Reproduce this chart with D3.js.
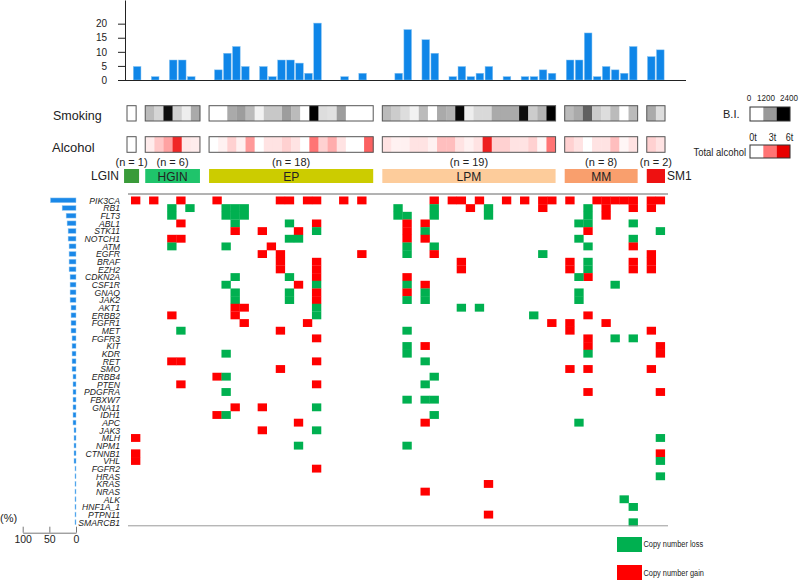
<!DOCTYPE html>
<html>
<head>
<meta charset="utf-8">
<script src="https://cdn.jsdelivr.net/npm/d3@7"></script>
<style>
body { margin: 0; background: #fff; }
svg text { font-family: "Liberation Sans", Arial, sans-serif; fill: #222; }
</style>
</head>
<body>
<div id="chart"></div>
<script>
// Groups of samples
var groups = ["LGIN", "HGIN", "EP", "LPM", "MM", "SM1"];
var groupN = [1, 6, 18, 19, 8, 2];
var groupColor = ["#3a9b3a", "#1fc46b", "#cccc00", "#fdcc9b", "#f99f6d", "#ee1111"];

// % of genes altered per sample (top bars)
var topPct = [4.8,
  1.2, 0, 7.1, 7.1, 1.2, 0,
  3.6, 9.5, 11.9, 4.8, 0, 4.8, 1.2, 7.1, 7.1, 6.0, 2.4, 20.2, 0, 0, 1.2, 0, 2.4, 0,
  0, 2.4, 17.9, 0, 14.3, 9.5, 0, 1.2, 4.8, 1.2, 2.4, 4.8, 0, 1.2, 0, 1.2, 1.2, 3.6, 2.4,
  7.1, 7.1, 16.7, 1.2, 4.8, 3.6, 2.4, 11.9,
  8.3, 10.7];

// Brinkman index per sample
var smokingBI = [0,
  800, 500, 2300, 550, 200, 1000,
  0, 0, 1000, 1150, 800, 150, 650, 650, 1150, 800, 0, 2400, 400, 350, 1150, 0, 0, 0,
  800, 600, 400, 150, 800, 0, 1000, 900, 2350, 200, 450, 450, 1000, 1000, 1000, 2300, 600, 900, 2400,
  800, 1000, 1650, 600, 400, 800, 0, 800,
  1000, 400];

// Total alcohol (t) per sample
var alcoholT = [0,
  0.4, 1.2, 2.0, 5.0, 0.5, 0.4,
  0, 0.3, 1.0, 0.3, 2.2, 0, 0.6, 0.6, 1.0, 0.6, 0, 3.0, 1.0, 1.8, 0.6, 0, 0, 3.5,
  0.6, 0.3, 0.3, 0.6, 0.6, 0.3, 1.4, 1.4, 0.6, 0.3, 0.6, 5.2, 1.0, 1.0, 0.6, 0.6, 1.0, 0.2, 3.0,
  1.0, 0.6, 0, 0.6, 0.6, 1.4, 0.2, 0.6,
  1.0, 0.6];

var genes = ["PIK3CA", "RB1", "FLT3", "ABL1", "STK11", "NOTCH1", "ATM", "EGFR", "BRAF", "EZH2",
  "CDKN2A", "CSF1R", "GNAQ", "JAK2", "AKT1", "ERBB2", "FGFR1", "MET", "FGFR3", "KIT",
  "KDR", "RET", "SMO", "ERBB4", "PTEN", "PDGFRA", "FBXW7", "GNA11", "IDH1", "APC",
  "JAK3", "MLH", "NPM1", "CTNNB1", "VHL", "FGFR2", "HRAS", "KRAS", "NRAS", "ALK",
  "HNF1A_1", "PTPN11", "SMARCB1"];

// % of samples altered per gene (left bars)
var genePct = [48, 26, 18.5, 16.7, 14.8, 14.8, 13, 13, 13, 13,
  11.1, 11.1, 11.1, 11.1, 9.3, 9.3, 9.3, 9.3, 7.4, 7.4,
  7.4, 7.4, 7.4, 5.6, 5.6, 5.6, 5.6, 5.6, 5.6, 5.6,
  3.7, 3.7, 3.7, 3.7, 3.7, 1.9, 1.9, 1.9, 1.9, 1.9,
  1.9, 1.9, 1.9];

// Copy number gain: sample indices per gene
var gains = [
  [0, 1, 4, 7, 14, 15, 17, 18, 21, 23, 30, 32, 33, 35, 38, 40, 42, 43, 44, 47, 48, 49, 50, 51, 52, 53],
  [34, 42, 48, 51, 52],
  [48],
  [4, 18, 27, 29],
  [9, 12, 16, 27, 46],
  [3, 4, 27, 29],
  [13, 51],
  [12, 14, 23, 30, 52],
  [14, 18, 33, 44, 51, 52],
  [14, 18, 33, 44, 51, 52],
  [18, 27, 46],
  [16, 29],
  [18, 27],
  [18],
  [9, 10],
  [3, 9, 46],
  [10, 17, 43, 44, 48],
  [14, 44, 52],
  [18, 46],
  [29, 46, 53],
  [53],
  [3, 4, 18],
  [14, 44, 46, 52],
  [7],
  [4, 18],
  [46, 53],
  [],
  [9, 12],
  [7],
  [16, 29],
  [12],
  [0],
  [],
  [0, 53],
  [0],
  [18],
  [],
  [36],
  [29],
  [],
  [],
  [36],
  []
];

// Copy number loss: sample indices per gene
var losses = [
  [],
  [3, 5, 8, 9, 10, 26, 30, 36, 46],
  [3, 8, 9, 10, 26, 27, 30, 36, 46],
  [9, 15, 45, 46, 51],
  [18, 29, 53],
  [15, 16, 45, 51],
  [3, 8, 27, 30, 46],
  [27, 42],
  [46],
  [46],
  [9, 15, 45],
  [8, 18, 27, 49],
  [9, 15, 29, 45],
  [9, 15, 27, 29, 45],
  [18, 33, 35],
  [18, 41],
  [],
  [4, 27],
  [49, 51],
  [27],
  [8, 27, 46],
  [29],
  [],
  [8, 30],
  [29],
  [8],
  [27, 29, 30],
  [18],
  [8, 30],
  [45],
  [18],
  [53],
  [16, 27],
  [],
  [53],
  [],
  [53],
  [],
  [],
  [50],
  [51],
  [],
  [51]
];

var lossColor = "#00b050";
var gainColor = "#ff0000";

// sample -> group and slot (one empty slot between groups)
var samples = [];
groups.forEach(function(g, gi) {
  for (var i = 0; i < groupN[gi]; i++) {
    var idx = samples.length;
    samples.push({ index: idx, group: gi, slot: idx + gi });
  }
});
var slotCount = samples.length + groups.length - 1;
var slots = d3.range(slotCount);

var width = 800, height = 581;
var svg = d3.select("#chart").append("svg")
  .attr("width", width)
  .attr("height", height);

// condensed text helper
function ctext(x, y, str, size, sx, anchor, style) {
  return svg.append("text")
    .attr("transform", "translate(" + x + "," + y + ") scale(" + sx + ",1)")
    .attr("text-anchor", anchor || "start")
    .attr("font-size", size)
    .attr("font-style", style || "normal")
    .text(str);
}

// Scales
var xTop = d3.scaleBand().domain(slots)
  .range([133.3, 133.3 + 9.02 * (slotCount - 0.15)]).paddingInner(0.15);
var xBox = d3.scaleBand().domain(slots).range([127, 665]);
var xHeat = d3.scaleBand().domain(slots).range([131, 131 + 9.047 * slotCount]);
var yTop = d3.scaleLinear().domain([0, 28.4]).range([80, 0]);
var yRow = d3.scaleBand().domain(genes).range([196.5, 526]);
var xLeft = d3.scaleLinear().domain([0, 100]).range([76, 22.7]);
var smokeColor = d3.scaleLinear().domain([0, 1200, 2400]).range(["#ffffff", "#999999", "#000000"]);
var alcColor = d3.scaleLinear().domain([0, 3, 6]).range(["#ffffff", "#ff7474", "#e80000"]);

// ---- top bar chart ----
svg.append("g").selectAll("rect")
  .data(samples)
  .enter()
  .append("rect")
  .attr("x", function(d) { return xTop(d.slot); })
  .attr("y", function(d) { return yTop(topPct[d.index]); })
  .attr("width", xTop.bandwidth())
  .attr("height", function(d) { return 80 - yTop(topPct[d.index]); })
  .attr("fill", "#0f86e8")
  .attr("stroke", "#8cc6f2")
  .attr("stroke-width", 0.5);

var topAxis = svg.append("g")
  .attr("transform", "translate(125,0)")
  .call(d3.axisLeft(yTop).tickValues([0, 5, 10, 15, 20]).tickSize(7).tickSizeOuter(0).tickPadding(11));
topAxis.selectAll("text").attr("font-size", 10).attr("font-family", "Liberation Sans, Arial");
topAxis.selectAll("path, line").attr("stroke", "#222");

svg.append("line")
  .attr("x1", 125).attr("x2", 686)
  .attr("y1", 80.5).attr("y2", 80.5)
  .attr("stroke", "#222");

// ---- smoking / alcohol rows ----
function clinicalRow(y, h, values, color) {
  svg.append("g").selectAll("rect")
    .data(samples)
    .enter()
    .append("rect")
    .attr("x", function(d) { return xBox(d.slot); })
    .attr("y", y)
    .attr("width", xBox.bandwidth() + 0.3)
    .attr("height", h)
    .attr("fill", function(d) { return color(values[d.index]); });
  groups.forEach(function(g, gi) {
    var grp = samples.filter(function(d) { return d.group === gi; });
    var x0 = xBox(grp[0].slot), x1 = xBox(grp[grp.length - 1].slot) + xBox.bandwidth();
    svg.append("rect")
      .attr("x", x0).attr("y", y)
      .attr("width", x1 - x0).attr("height", h)
      .attr("fill", "none")
      .attr("stroke", "#555")
      .attr("stroke-width", 1);
  });
}
clinicalRow(105.7, 15.3, smokingBI, smokeColor);
clinicalRow(136.7, 15.6, alcoholT, alcColor);

svg.append("text").attr("x", 53).attr("y", 119.5).attr("font-size", 12.5).text("Smoking");
svg.append("text").attr("x", 52).attr("y", 151.5).attr("font-size", 13).text("Alcohol");

// ---- group boxes ----
groups.forEach(function(g, gi) {
  var grp = samples.filter(function(d) { return d.group === gi; });
  var x0 = xBox(grp[0].slot), x1 = xBox(grp[grp.length - 1].slot) + xBox.bandwidth();
  if (x1 - x0 < 15) {
    var c = (x0 + x1) / 2;
    x0 = c - 7.5; x1 = c + 7.5;
  }
  var cx = (x0 + x1) / 2;
  svg.append("rect")
    .attr("x", x0).attr("y", 169)
    .attr("width", x1 - x0).attr("height", 14)
    .attr("fill", groupColor[gi]);
  svg.append("text")
    .attr("x", cx).attr("y", 166)
    .attr("text-anchor", "middle")
    .attr("font-size", 11)
    .text("(n = " + groupN[gi] + ")");
  if (g === "LGIN") {
    svg.append("text").attr("x", 119).attr("y", 180.3).attr("text-anchor", "end").attr("font-size", 12).text(g);
  } else if (g === "SM1") {
    svg.append("text").attr("x", 667).attr("y", 180.3).attr("font-size", 12).text(g);
  } else {
    svg.append("text").attr("x", cx).attr("y", 180.5).attr("text-anchor", "middle").attr("font-size", 12).text(g);
  }
});

// ---- heatmap ----
var cells = [];
genes.forEach(function(g, i) {
  gains[i].forEach(function(s) { cells.push({ gene: g, sample: samples[s], type: "gain" }); });
  losses[i].forEach(function(s) { cells.push({ gene: g, sample: samples[s], type: "loss" }); });
});

svg.append("g").selectAll("rect")
  .data(cells)
  .enter()
  .append("rect")
  .attr("x", function(d) { return xHeat(d.sample.slot); })
  .attr("y", function(d) { return yRow(d.gene); })
  .attr("width", xHeat.bandwidth() + 0.3)
  .attr("height", yRow.bandwidth() + 0.2)
  .attr("fill", function(d) { return d.type === "gain" ? gainColor : lossColor; });

svg.append("line")
  .attr("x1", 128).attr("x2", 668).attr("y1", 194).attr("y2", 194)
  .attr("stroke", "#666");
svg.append("line")
  .attr("x1", 128).attr("x2", 668).attr("y1", 525.8).attr("y2", 525.8)
  .attr("stroke", "#999");

// gene labels
genes.forEach(function(g) {
  ctext(120, yRow(g) + yRow.bandwidth() / 2 + 3.4, g, 9.6, 0.9, "end", "italic");
});

// ---- left bar chart ----
svg.append("g").selectAll("rect")
  .data(genes)
  .enter()
  .append("rect")
  .attr("x", function(d, i) { return xLeft(genePct[i]); })
  .attr("y", function(d) { return yRow(d) + yRow.bandwidth() / 2 - 2.4; })
  .attr("width", function(d, i) { return 76 - xLeft(genePct[i]); })
  .attr("height", 4.8)
  .attr("fill", "#1a88e8")
  .attr("stroke", "#9ccdf3")
  .attr("stroke-width", 0.5);

var leftAxis = svg.append("g")
  .attr("transform", "translate(0,532.7)")
  .call(d3.axisBottom(xLeft).tickValues([100, 50, 0]).tickSize(-6).tickSizeOuter(0).tickPadding(3));
leftAxis.selectAll("text").attr("font-size", 10.5).attr("font-family", "Liberation Sans, Arial");
leftAxis.selectAll("path, line").attr("stroke", "#777");
svg.append("text").attr("x", 0).attr("y", 522).attr("font-size", 11).text("(%)");

// ---- legends ----
svg.append("text").attr("x", 723).attr("y", 118).attr("font-size", 11).text("B.I.");
[0, 1200, 2400].forEach(function(v, i) {
  svg.append("rect")
    .attr("x", 750 + i * 13.33).attr("y", 107)
    .attr("width", 13.4).attr("height", 14)
    .attr("fill", smokeColor(v));
});
svg.append("rect").attr("x", 750).attr("y", 107).attr("width", 40).attr("height", 14)
  .attr("fill", "none").attr("stroke", "#333");
ctext(749, 101, "0", 9.5, 0.85, "middle");
ctext(766, 101, "1200", 9.5, 0.85, "middle");
ctext(789, 101, "2400", 9.5, 0.85, "middle");

ctext(746, 155.5, "Total alcohol", 11, 0.86, "end");
[0, 3, 6].forEach(function(v, i) {
  svg.append("rect")
    .attr("x", 750 + i * 13.33).attr("y", 145)
    .attr("width", 13.4).attr("height", 13)
    .attr("fill", alcColor(v));
});
svg.append("rect").attr("x", 750).attr("y", 145).attr("width", 40).attr("height", 13)
  .attr("fill", "none").attr("stroke", "#333");
ctext(753, 140.5, "0t", 10, 0.9, "middle");
ctext(772.5, 140.5, "3t", 10, 0.9, "middle");
ctext(789.5, 140.5, "6t", 10, 0.9, "middle");

svg.append("rect").attr("x", 617).attr("y", 537).attr("width", 25).attr("height", 15).attr("fill", lossColor);
ctext(643.5, 547, "Copy number loss", 9.5, 0.78, "start");
svg.append("rect").attr("x", 617).attr("y", 565).attr("width", 25).attr("height", 15).attr("fill", gainColor);
ctext(643.5, 576, "Copy number gain", 9.5, 0.78, "start");
</script>
</body>
</html>
